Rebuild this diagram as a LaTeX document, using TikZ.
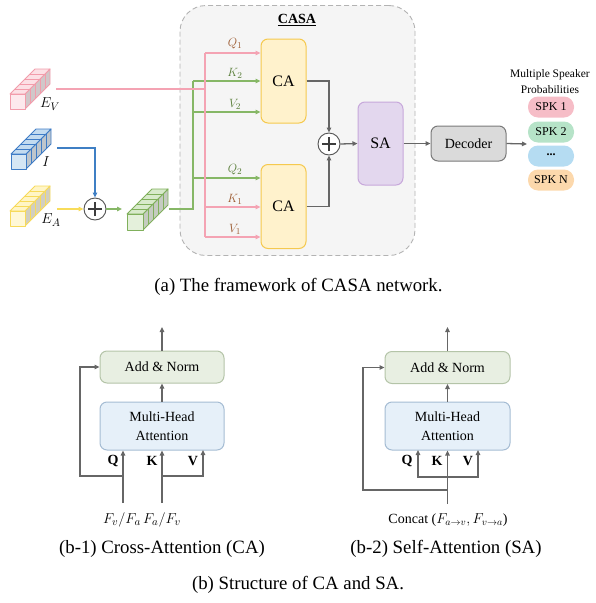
\documentclass[tikz,border=0pt]{standalone}
\usepackage{fontspec}
\setmainfont{Liberation Serif}
\usetikzlibrary{arrows.meta,calc}

\definecolor{casafill}{HTML}{F5F5F5}
\definecolor{casaedge}{HTML}{B3B3B3}
\definecolor{cafill}{HTML}{FFF2CC}
\definecolor{caedge}{HTML}{F5C94E}
\definecolor{safill}{HTML}{E3D7EE}
\definecolor{saedge}{HTML}{C7A8DB}
\definecolor{decfill}{HTML}{DADADA}
\definecolor{decedge}{HTML}{7A7A7A}
\definecolor{arrowgray}{HTML}{666666}
\definecolor{pinkline}{HTML}{F4A3B3}
\definecolor{greenline}{HTML}{86B766}
\definecolor{blueline}{HTML}{3F7FC4}
\definecolor{yellowline}{HTML}{F8DC5A}
\definecolor{brownlab}{HTML}{9C5A30}
\definecolor{greenlab}{HTML}{587D38}
\definecolor{spkpink}{HTML}{F6BDC7}
\definecolor{spkgreen}{HTML}{B6E3C8}
\definecolor{spkblue}{HTML}{B5DCF2}
\definecolor{spkorange}{HTML}{FCD8AC}
\definecolor{addfill}{HTML}{E8EFE2}
\definecolor{addedge}{HTML}{B4C4A8}
\definecolor{mhafill}{HTML}{E6F0F9}
\definecolor{mhaedge}{HTML}{A5BCD3}
\definecolor{barside}{HTML}{BDBDBD}
% feature-bar colours
\definecolor{evedge}{HTML}{F29CAB}
\definecolor{evlight}{HTML}{FCE0E5}
\definecolor{iedge}{HTML}{3F7CC6}
\definecolor{ilight}{HTML}{C3DBF0}
\definecolor{eaedge}{HTML}{F7DA5A}
\definecolor{ealight}{HTML}{FFF5C6}
\definecolor{gedge}{HTML}{80B05C}
\definecolor{glight}{HTML}{D8EACB}

% stacked feature bar: #1,#2 front lower-left corner, #3 edge, #4 light fill, #5 stroke
\newcommand{\featbar}[5]{%
  \begin{scope}[shift={(#1,#2)}, line width=0.9pt, line join=round]
    \filldraw[fill=barside!70!#4, draw=#5] (#3,0) -- (#3+25,-25) -- (#3+25,-#3-25) -- (#3,-#3) -- cycle;
    \foreach \i in {1,...,4} {\draw[#5] (#3+5*\i,-5*\i) -- (#3+5*\i,-#3-5*\i);}
    \filldraw[fill=#4, draw=#5] (0,-#3) -- (#3,-#3) -- (#3+25,-#3-25) -- (25,-#3-25) -- cycle;
    \foreach \i in {1,...,4} {\draw[#5] (5*\i,-#3-5*\i) -- (#3+5*\i,-#3-5*\i);}
    \filldraw[fill=#4!70!white, draw=#5] (0,0) rectangle (#3,-#3);
  \end{scope}}

\tikzset{
  arrowtip/.style={-{Triangle[length=5pt,width=4.5pt]}},
  rbox/.style={draw, rounded corners=7pt, line width=1pt, align=center, inner sep=1pt},
  cabox/.style={rbox, fill=cafill, draw=caedge, minimum width=45pt, minimum height=84pt, font=\fontsize{16}{19}\selectfont},
  sabox/.style={rbox, fill=safill, draw=saedge, minimum width=45pt, minimum height=83pt, font=\fontsize{16}{19}\selectfont},
  decbox/.style={rbox, fill=decfill, draw=decedge, minimum width=75pt, minimum height=35pt, font=\fontsize{14}{17}\selectfont},
  spkpill/.style={fill=#1, rounded corners=10pt, minimum width=46pt, minimum height=21pt, inner sep=0pt, font=\fontsize{12}{14}\selectfont},
  addbox/.style={rbox, fill=addfill, draw=addedge, minimum width=124pt, minimum height=32pt, font=\fontsize{14}{17}\selectfont},
  mhabox/.style={rbox, fill=mhafill, draw=mhaedge, minimum width=124pt, minimum height=48pt, font=\fontsize{14}{19}\selectfont},
  plusnode/.style={circle, draw=arrowgray!80!black, fill=white, line width=0.9pt, minimum size=22pt, inner sep=0pt,
    path picture={\draw[line width=1.1pt, arrowgray!60!black]
      ([xshift=-7pt]path picture bounding box.center) -- ([xshift=7pt]path picture bounding box.center)
      ([yshift=-7pt]path picture bounding box.center) -- ([yshift=7pt]path picture bounding box.center);}},
  pinkw/.style={draw=pinkline, line width=1.5pt},
  greenw/.style={draw=greenline, line width=1.5pt},
  grayw/.style={draw=arrowgray, line width=1.3pt},
  qkvlab/.style={font=\fontsize{13}{15}\selectfont, inner sep=1pt},
  boldlab/.style={font=\bfseries\fontsize{14}{16}\selectfont, inner sep=0pt},
  captext/.style={font=\fontsize{18.8}{21}\selectfont, inner sep=0pt},
  mathlab/.style={font=\fontsize{15}{17}\selectfont, inner sep=0pt}
}

\begin{document}
\begin{tikzpicture}[x=1pt,y=-1pt]
\useasboundingbox (0,0) rectangle (595,603);

% ---------------- (a) CASA framework ----------------
\node[draw=casaedge, fill=casafill, dash pattern=on 5pt off 3pt, line width=0.9pt, rounded corners=26pt,
      minimum width=235pt, minimum height=250pt] (casa) at (297.5,130.5) {};
\node[font=\bfseries\fontsize{14}{16}\selectfont, inner sep=0pt] (casatitle) at (297,20) {\underline{CASA}};

\node[cabox] (ca1) at (283.5,81) {CA};
\node[cabox] (ca2) at (283.5,206.5) {CA};
\node[sabox] (sa) at (380.5,143.5) {SA};
\node[plusnode] (plusR) at (329,144) {};
\node[decbox] (dec) at (468.5,143.5) {Decoder};

\node[font=\fontsize{11.5}{16}\selectfont, align=center, inner sep=0pt] (mspk) at (550,82) {Multiple Speaker\\Probabilities};
\node[spkpill=spkpink] (spk1) at (551,107) {SPK 1};
\node[spkpill=spkgreen] (spk2) at (551,132) {SPK 2};
\node[spkpill=spkblue] (spkd) at (551,156) {\textbf{\raisebox{2pt}{...}}};
\node[spkpill=spkorange] (spkn) at (551,180) {SPK N};

% feature bars
\featbar{10}{109}{15}{evlight}{evedge}
\featbar{11}{169}{15}{ilight}{iedge}
\featbar{10}{226}{15}{ealight}{eaedge}
\featbar{127}{230}{16}{glight}{gedge}
\coordinate (ev) at (56,89);
\coordinate (iv) at (57,148);
\coordinate (ea) at (57,209);
\coordinate (gin) at (122,209);
\coordinate (gout) at (169,209);
\node[mathlab] (evlab) at (50,104) {$E_V$};
\node[mathlab] (ilab) at (46,162) {$I$};
\node[mathlab] (ealab) at (51,220) {$E_A$};

\node[plusnode] (plusL) at (95,209) {};

% input merge
\draw[draw=blueline, line width=1.5pt, arrowtip] (iv) -| (plusL.north);
\draw[draw=yellowline, line width=1.5pt, arrowtip] (ea) -- (plusL.west);
\draw[greenw, arrowtip] (plusL.east) -- (gin);

% green branch (audio-side stream)
\coordinate (gk2) at (193,81);
\coordinate (gv2) at (193,112);
\coordinate (gq2) at (193,178);
\draw[greenw] (gout) -- (193,209) -- (gk2);
\draw[greenw, arrowtip] (gk2) -- (ca1.west |- gk2);
\draw[greenw, arrowtip] (gv2) -- (ca1.west |- gv2);
\draw[greenw, arrowtip] (gq2) -- (ca2.west |- gq2);

% pink branch (visual stream)
\coordinate (pq1) at (205,53);
\coordinate (pk1) at (205,207);
\coordinate (pv1) at (205,237);
\draw[pinkw] (ev) -- (205,89);
\draw[pinkw] (pq1) -- (pv1);
\draw[pinkw, arrowtip] (pq1) -- (ca1.west |- pq1);
\draw[pinkw, arrowtip] (pk1) -- (ca2.west |- pk1);
\draw[pinkw, arrowtip] (pv1) -- (ca2.west |- pv1);

\node[qkvlab, text=brownlab] (lq1) at (235,44) {$Q_1$};
\node[qkvlab, text=greenlab] (lk2) at (235,73) {$K_2$};
\node[qkvlab, text=greenlab] (lv2) at (235,104) {$V_2$};
\node[qkvlab, text=greenlab] (lq2) at (235,170) {$Q_2$};
\node[qkvlab, text=brownlab] (lk1) at (235,199) {$K_1$};
\node[qkvlab, text=brownlab] (lv1) at (235,229) {$V_1$};

% fusion and decoding
\draw[grayw, arrowtip] (ca1.east) -| (plusR.north);
\draw[grayw, arrowtip] (ca2.east) -| (plusR.south);
\draw[grayw, arrowtip] (plusR.east) -- (sa.west);
\draw[grayw, arrowtip] (sa.east) -- (dec.west);
\coordinate (decout) at (527,144);
\draw[grayw, arrowtip] (dec.east) -- (decout);

\node[captext] (capa) at (298.5,287) {(a) The framework of CASA network.};

% ---------------- (b-1) Cross-Attention ----------------
\node[addbox] (add1) at (162,367) {Add \& Norm};
\node[mhabox] (mha1) at (162,426) {Multi-Head\\Attention};
\coordinate (in1) at (123,503);
\coordinate (in2) at (162,503);
\coordinate (j1) at (123,476);
\coordinate (j2) at (162,476);
\coordinate (top1) at (162,327);
\draw[grayw, arrowtip] (in1) -- (in1 |- mha1.south);
\draw[grayw, arrowtip] (j1) -- (80,476) |- (add1.west);
\draw[grayw, arrowtip] (in2) -- (mha1.south);
\draw[grayw, arrowtip] (j2) -| (203,450);
\draw[grayw, arrowtip] (mha1.north) -- (add1.south);
\draw[grayw, arrowtip] (add1.north) -- (top1);
\node[boldlab] (q1) at (113,461) {Q};
\node[boldlab] (k1) at (152,461) {K};
\node[boldlab] (v1) at (193,461) {V};
\node[mathlab] (fin1) at (122,520) {$F_v/F_a$};
\node[mathlab] (fin2) at (162,520) {$F_a/F_v$};
\node[captext] (capb1) at (162,549) {(b-1) Cross-Attention (CA)};

% ---------------- (b-2) Self-Attention ----------------
\node[addbox, minimum width=125pt] (add2) at (447.5,367.5) {Add \& Norm};
\node[mhabox, minimum width=125pt] (mha2) at (447.5,426) {Multi-Head\\Attention};
\coordinate (in3) at (447.5,504);
\coordinate (j3) at (447.5,477);
\coordinate (r3) at (447.5,490);
\coordinate (top2) at (447.5,327);
\draw[grayw, arrowtip] (in3) -- (mha2.south);
\draw[grayw, arrowtip] (j3) -| (418,450);
\draw[grayw, arrowtip] (j3) -| (478,450);
\draw[grayw, arrowtip] (r3) -- (363,490) |- (add2.west);
\draw[grayw, arrowtip] (mha2.north) -- (add2.south);
\draw[grayw, arrowtip] (add2.north) -- (top2);
\node[boldlab] (q2) at (407,461) {Q};
\node[boldlab] (k2) at (437,461) {K};
\node[boldlab] (v2) at (468,461) {V};
\node[font=\fontsize{14}{17}\selectfont, inner sep=0pt] (concat) at (448,520) {Concat ($F_{a\to v}, F_{v\to a}$)};
\node[captext] (capb2) at (446,549) {(b-2) Self-Attention (SA)};

\node[captext] (capb) at (298,585) {(b) Structure of CA and SA.};
\end{tikzpicture}
\end{document}
